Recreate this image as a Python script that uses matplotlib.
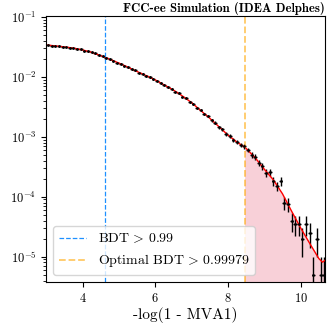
import numpy as np
import matplotlib
matplotlib.use("Agg")
import matplotlib.pyplot as plt

# LaTeX-like look without usetex
plt.rcParams['font.family'] = 'serif'
plt.rcParams['font.serif'] = ['cmr10']
plt.rcParams['mathtext.fontset'] = 'cm'
plt.rcParams['axes.formatter.use_mathtext'] = True
plt.rcParams['axes.unicode_minus'] = False

# Histogram: 77 bins of width 0.1 between 3.0 and 10.7, raw (unweighted) counts per bin
bin_lo, bin_hi, n_bins = 3.0, 10.7, 77
event_weight = 5e-6
counts = [6812, 6650, 6540, 6495, 6330, 6301, 6120, 6088, 5850, 5742,
          5490, 5362, 5120, 4930, 4610, 4420, 4190, 3902, 3745, 3468,
          3310, 3061, 2921, 2688, 2560, 2350, 2262, 2071, 1990, 1818,
          1736, 1569, 1490, 1338, 1271, 1140, 1068, 940, 881, 770,
          712, 608, 563, 480, 446, 376, 345, 290, 266, 224,
          209, 178, 166, 147, 139, 121, 100, 92, 73, 64,
          50, 52, 36, 30, 36, 16, 15, 8, 7, 7,
          4, 7, 5, 1, 4, 1, 1]

# Fitted shape (red curve)
fit_x = [3.0, 3.25, 3.5, 3.75, 4.0, 4.25, 4.5, 4.75, 5.0, 5.25, 5.5, 5.75,
         6.0, 6.25, 6.5, 6.75, 7.0, 7.25, 7.5, 7.75, 8.0, 8.25, 8.47, 8.75,
         9.0, 9.25, 9.5, 9.75, 10.0, 10.25, 10.5, 10.6, 10.67]
fit_y = [0.0341, 0.0329, 0.0316, 0.0302, 0.0282, 0.0257, 0.0226, 0.0197,
         0.0170, 0.0145, 0.0123, 0.0105, 0.00891, 0.00733, 0.00603, 0.00479,
         0.00372, 0.00275, 0.00204, 0.00148, 0.00107, 0.000813, 0.000668,
         0.000447, 0.000288, 0.000191, 0.000112, 5.75e-5, 3.02e-5, 1.66e-5,
         9.3e-6, 8.1e-6, 8.7e-6]

# BDT cuts in -log(1 - MVA1)
cut_loose = -np.log(1 - 0.99)
cut_opt = -np.log(1 - 0.99979)

edges = np.linspace(bin_lo, bin_hi, n_bins + 1)
centers = 0.5 * (edges[1:] + edges[:-1])
half_w = 0.5 * (edges[1] - edges[0])
counts = np.array(counts, dtype=float)
vals = counts * event_weight
errs = np.sqrt(counts) * event_weight

fig = plt.figure(figsize=(3.32, 3.32), dpi=100)
ax = fig.add_axes([0.139, 0.151, 0.840, 0.801])

fx = np.array(fit_x)
fy = np.array(fit_y)
sel = fx >= cut_opt - 1e-9
ax.fill_between(fx[sel], fy[sel], 1e-9, color='crimson', alpha=0.2, lw=0)

ax.errorbar(centers, vals, yerr=errs, xerr=half_w, fmt='.', color='k',
            markersize=2, elinewidth=1, capsize=0)
ax.plot(fx, fy, color='red', lw=1)

ax.axvline(cut_loose, color='dodgerblue', ls='--', lw=0.9,
           label=r'BDT$\,>\,$0.99')
ax.axvline(cut_opt, color='orange', ls='--', lw=1.3, alpha=0.6,
           label=r'Optimal BDT$\,>\,$0.99979')

ax.set_yscale('log')
ax.set_xlim(3.0, 10.67)
ax.set_ylim(3.8e-6, 0.104)
ax.set_xticks([4, 6, 8, 10])
ax.tick_params(labelsize=9)
ax.set_xlabel('-log(1 - MVA1)', fontsize=11, labelpad=2)
ax.set_title('FCC-ee Simulation (IDEA Delphes)', loc='right', fontsize=9.2,
             fontfamily='cmb10', pad=3)
ax.legend(loc='lower left', fontsize=10)

fig.savefig('out.png', dpi=100)
